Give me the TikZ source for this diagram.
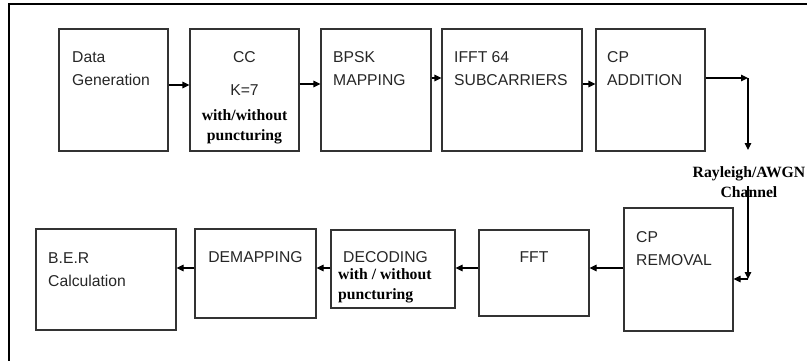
\documentclass[tikz,border=0pt]{standalone}
\usepackage{fontspec}
\setmainfont{Liberation Serif}
\setsansfont{Liberation Sans}
\usetikzlibrary{arrows.meta,positioning,calc}

\begin{document}
\begin{tikzpicture}[
  x=1pt, y=-1pt,
  block/.style={draw=black!80, line width=1.1pt, inner sep=0pt},
  txt/.style={font=\sffamily\fontsize{15.7}{23}\selectfont, text=black!85,
              inner sep=0pt, align=left, anchor=north west},
  note/.style={font=\rmfamily\bfseries\fontsize{15.7}{20}\selectfont, inner sep=0pt},
  arrow/.style={-{Triangle[length=7pt,width=6.5pt]}, line width=1.1pt}
]
  \useasboundingbox (0,0) rectangle (807,360);
  % outer frame, runs off the page right and bottom
  \draw[line width=1.6pt] (9,362) -- (9,4) -- (809,4);

  % Transmitter (top row)
  \node[block, minimum width=109pt, minimum height=122pt] (datagen) at (113.5,90) {};
  \node[block, minimum width=109pt, minimum height=122pt] (cc) at (244.5,90) {};
  \node[block, minimum width=110pt, minimum height=122pt] (bpsk) at (376,90) {};
  \node[block, minimum width=140pt, minimum height=122pt] (ifft) at (512,90) {};
  \node[block, minimum width=109pt, minimum height=122pt] (cpadd) at (650.5,90) {};

  \node[txt] (datagentxt) at (72,51) {Data\\Generation};
  \node[txt, align=center, anchor=north] (cctxt) at (244.5,51) {CC\\[10pt]K=7};
  \node[note, align=center] (ccnote) at (244.5,127) {with/without\\puncturing};
  \node[txt] (bpsktxt) at (333,51) {BPSK\\MAPPING};
  \node[txt] (iffttxt) at (454,51) {IFFT 64\\SUBCARRIERS};
  \node[txt] (cpaddtxt) at (607,51) {CP\\ADDITION};

  % Channel
  \coordinate (turn) at (748,78);
  \coordinate (chanin) at (748,150);
  \coordinate (chanout) at (748,186);
  \coordinate (rxin) at (748,279);
  \node[note, align=center] (chan) at (749,182) {Rayleigh/AWGN\\Channel};

  % Receiver (bottom row)
  \node[block, minimum width=109pt, minimum height=123pt] (cprem) at (678.5,269.5) {};
  \node[block, minimum width=110pt, minimum height=86pt] (fft) at (534,273) {};
  \node[block, minimum width=124pt, minimum height=78pt] (decode) at (393,269) {};
  \node[block, minimum width=121pt, minimum height=89pt] (demap) at (255.5,273.5) {};
  \node[block, minimum width=140pt, minimum height=101pt] (ber) at (106,279.5) {};

  \node[txt] (cpremtxt) at (636,231) {CP\\REMOVAL};
  \node[txt, anchor=center] (ffttxt) at (534,257) {FFT};
  \node[txt] (decodetxt) at (343,251) {DECODING};
  \node[note, align=left, anchor=north west] (decodenote) at (338,268) {with / without\\puncturing};
  \node[txt, anchor=center] (demaptxt) at (255.5,257) {DEMAPPING};
  \node[txt] (bertxt) at (48,252) {B.E.R\\Calculation};

  % Arrows
  \draw[arrow] ([yshift=5pt]datagen.east) -- ([yshift=5pt]cc.west);
  \draw[arrow] ([yshift=6pt]cc.east) -- ([yshift=6pt]bpsk.west);
  \draw[arrow] ([yshift=12pt]bpsk.east) -- ([yshift=12pt]ifft.west);
  \draw[arrow] ([yshift=6pt]ifft.east) -- ([yshift=6pt]cpadd.west);
  \draw[arrow] ([yshift=12pt]cpadd.east) -- (turn);
  \draw[arrow] (turn) -- (chanin);
  \draw[arrow] (chanout) -- (rxin);
  \draw[arrow] (rxin) -- (cprem.east |- rxin);

  \coordinate (row2) at (0,268);
  \foreach \a/\b in {cprem/fft, fft/decode, decode/demap, demap/ber} {
    \draw[arrow] (\a.west |- row2) -- (\b.east |- row2);
  }
\end{tikzpicture}
\end{document}
